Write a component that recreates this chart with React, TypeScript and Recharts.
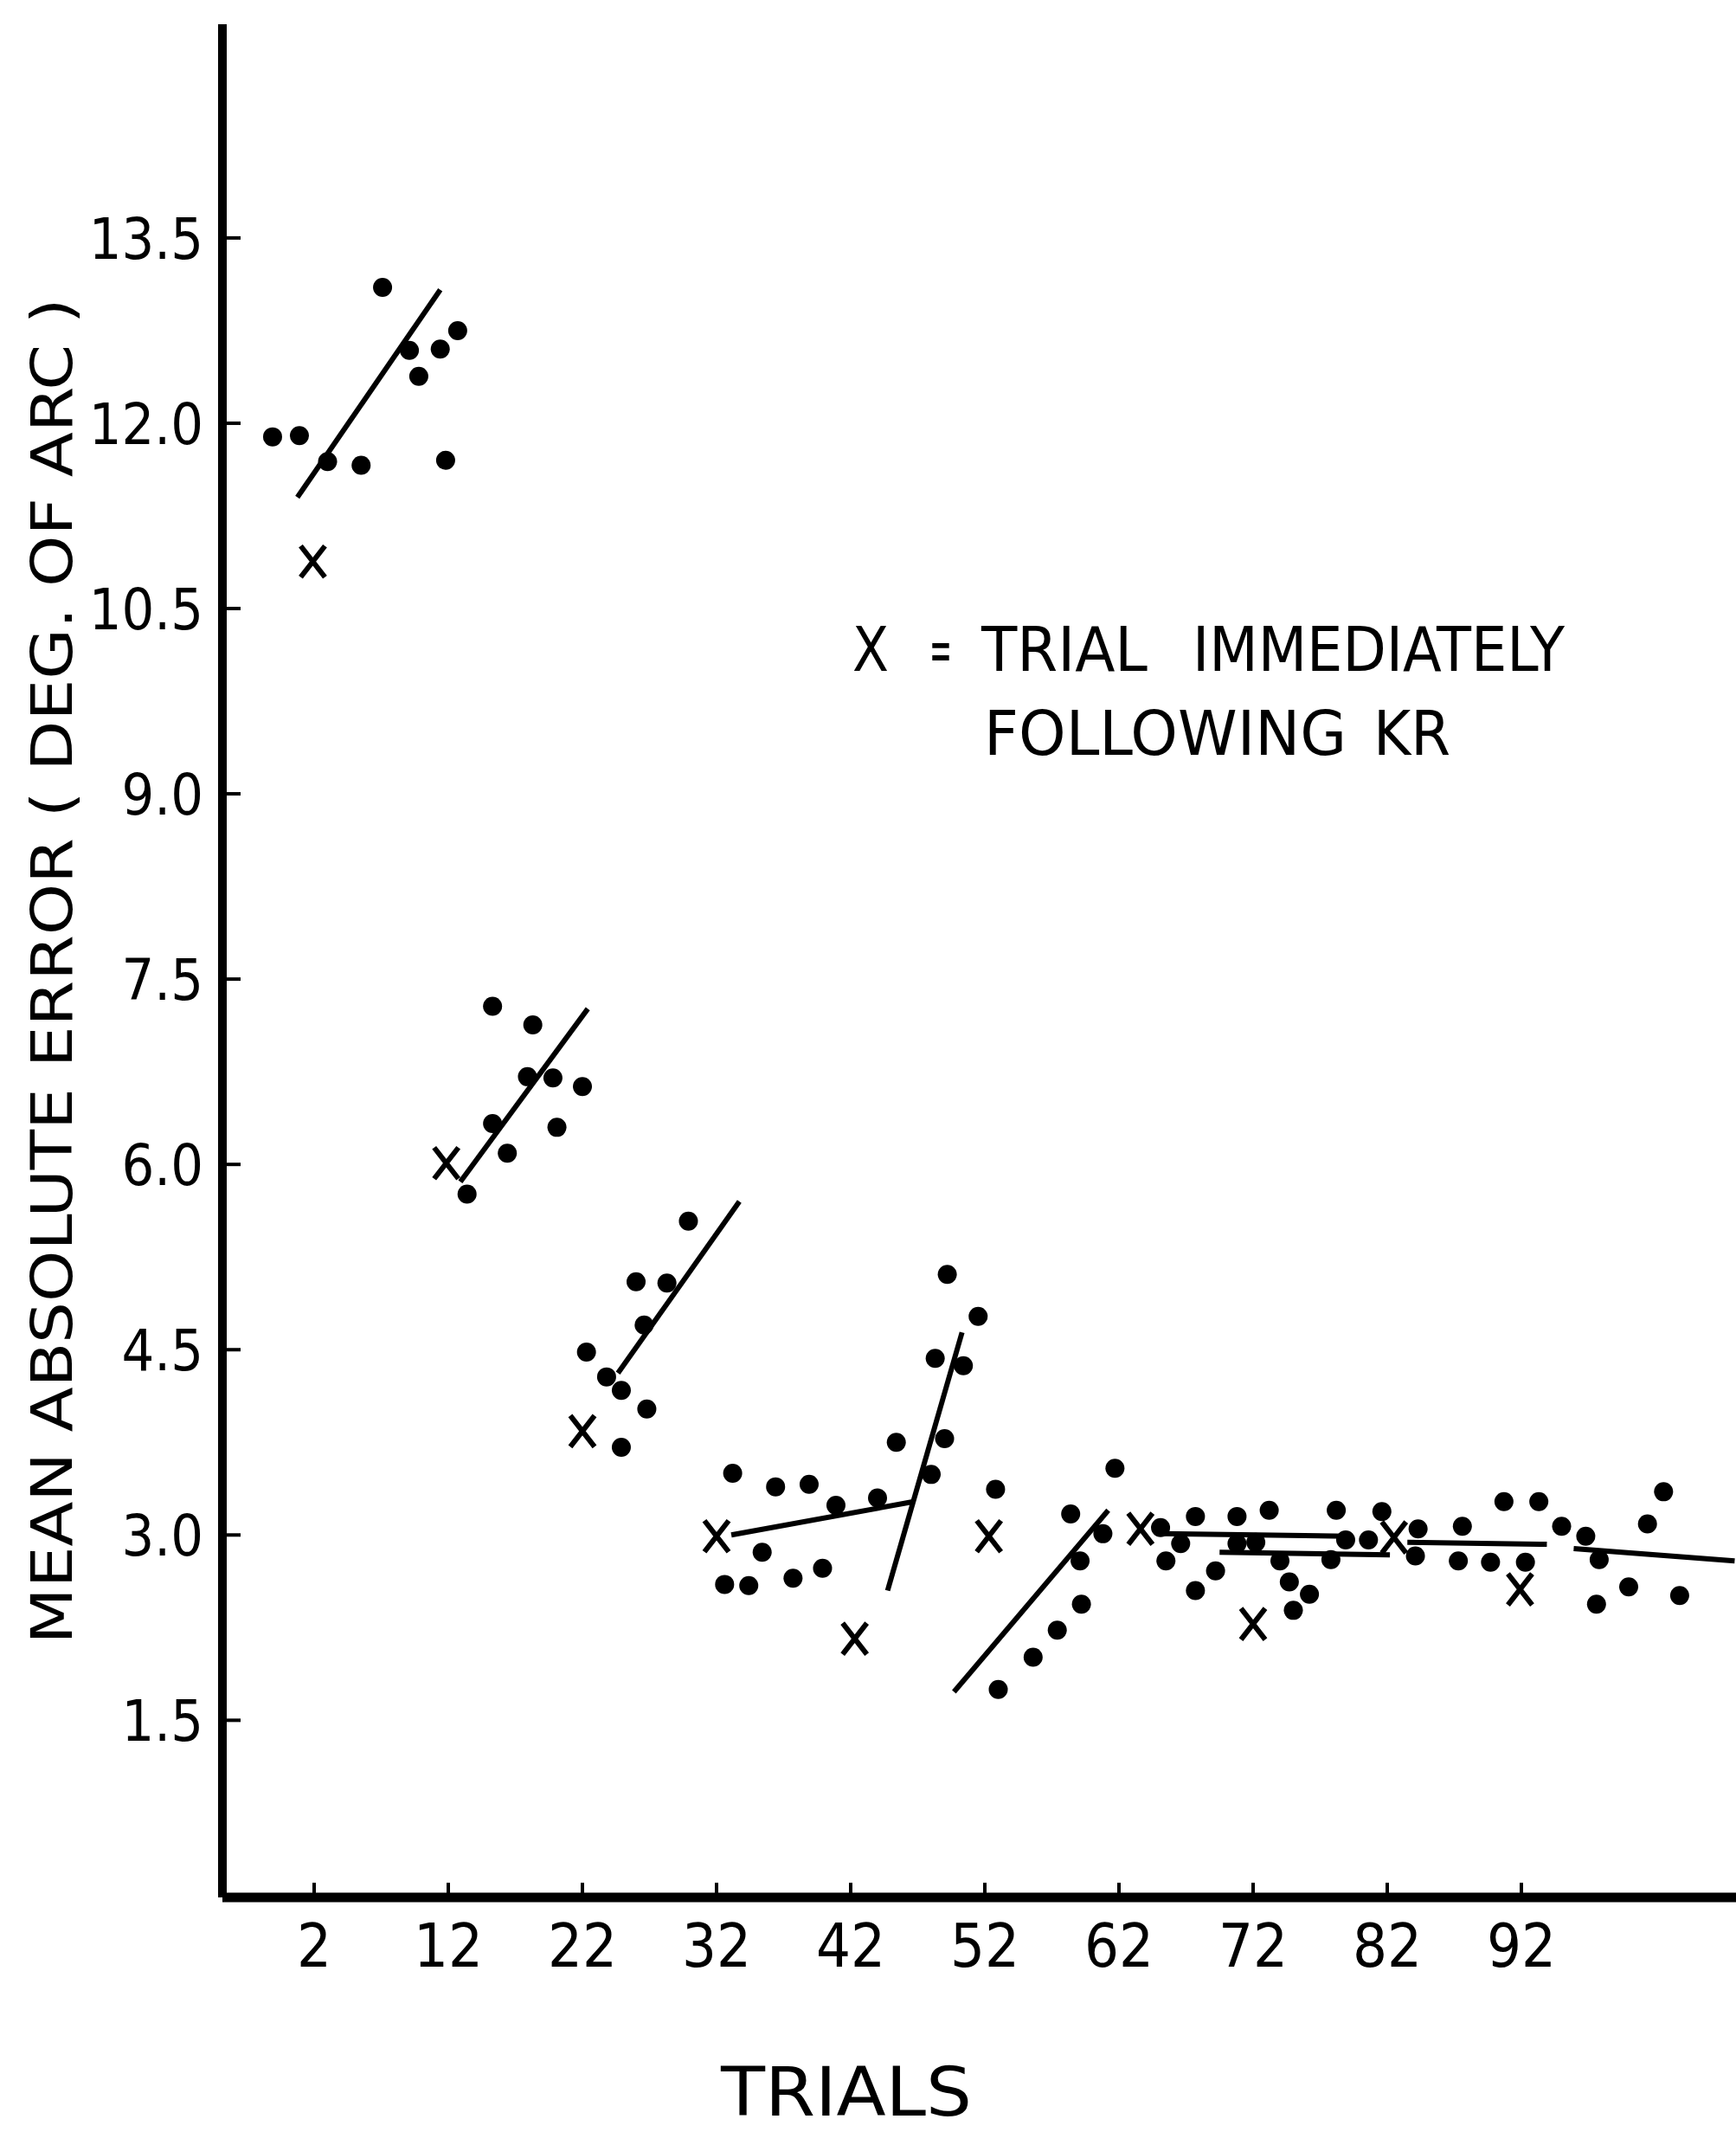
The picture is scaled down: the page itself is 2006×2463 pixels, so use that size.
import { ScatterChart, Scatter, XAxis, YAxis, ReferenceLine } from 'recharts';

const FONT = "'DejaVu Sans Condensed', 'DejaVu Sans', sans-serif";

const trialTicks = [2, 12, 22, 32, 42, 52, 62, 72, 82, 92];
const errorTicks = [1.5, 3, 4.5, 6, 7.5, 9, 10.5, 12, 13.5];

// mean absolute error per trial, grouped by KR block
const block1 = [
  { trial: -1.1, error: 11.89 }, { trial: 0.9, error: 11.9 }, { trial: 3.0, error: 11.69 },
  { trial: 5.5, error: 11.66 }, { trial: 7.1, error: 13.1 }, { trial: 9.1, error: 12.59 },
  { trial: 9.8, error: 12.38 }, { trial: 11.4, error: 12.6 }, { trial: 11.8, error: 11.7 },
  { trial: 12.7, error: 12.75 },
];
const block2 = [
  { trial: 13.4, error: 5.76 }, { trial: 15.3, error: 7.28 }, { trial: 15.3, error: 6.33 },
  { trial: 16.4, error: 6.09 }, { trial: 17.9, error: 6.71 }, { trial: 18.3, error: 7.13 },
  { trial: 19.8, error: 6.7 }, { trial: 20.1, error: 6.3 }, { trial: 22.0, error: 6.63 },
];
const block3 = [
  { trial: 22.3, error: 4.48 }, { trial: 23.8, error: 4.28 }, { trial: 24.9, error: 4.17 },
  { trial: 24.9, error: 3.71 }, { trial: 26.0, error: 5.05 }, { trial: 26.6, error: 4.7 },
  { trial: 26.8, error: 4.02 }, { trial: 28.3, error: 5.04 }, { trial: 29.9, error: 5.54 },
];
const block4 = [
  { trial: 32.6, error: 2.6 }, { trial: 33.2, error: 3.5 }, { trial: 34.4, error: 2.59 },
  { trial: 35.4, error: 2.86 }, { trial: 36.4, error: 3.39 }, { trial: 37.7, error: 2.65 },
  { trial: 38.9, error: 3.41 }, { trial: 39.9, error: 2.73 }, { trial: 40.9, error: 3.24 },
  { trial: 44.0, error: 3.3 }, { trial: 45.4, error: 3.75 },
];
const block5 = [
  { trial: 48.0, error: 3.49 }, { trial: 48.3, error: 4.43 }, { trial: 49.0, error: 3.78 },
  { trial: 49.2, error: 5.11 }, { trial: 50.4, error: 4.37 }, { trial: 51.5, error: 4.77 },
  { trial: 52.8, error: 3.37 },
];
const block6 = [
  { trial: 53.0, error: 1.75 }, { trial: 55.6, error: 2.01 }, { trial: 57.4, error: 2.23 },
  { trial: 58.4, error: 3.17 }, { trial: 59.1, error: 2.79 }, { trial: 59.2, error: 2.44 },
  { trial: 60.8, error: 3.01 }, { trial: 61.7, error: 3.54 },
];
const block7 = [
  { trial: 65.1, error: 3.06 }, { trial: 65.5, error: 2.79 }, { trial: 66.6, error: 2.93 },
  { trial: 67.7, error: 3.15 }, { trial: 67.7, error: 2.55 }, { trial: 69.2, error: 2.71 },
  { trial: 70.8, error: 3.15 }, { trial: 70.8, error: 2.93 }, { trial: 72.2, error: 2.94 },
  { trial: 73.2, error: 3.2 }, { trial: 74.0, error: 2.79 }, { trial: 74.7, error: 2.62 },
  { trial: 75.0, error: 2.39 }, { trial: 76.2, error: 2.52 }, { trial: 77.8, error: 2.8 },
  { trial: 78.2, error: 3.2 }, { trial: 78.9, error: 2.96 }, { trial: 80.6, error: 2.96 },
  { trial: 81.6, error: 3.19 },
];
const block8 = [
  { trial: 84.1, error: 2.83 }, { trial: 84.3, error: 3.05 }, { trial: 87.3, error: 2.79 },
  { trial: 87.6, error: 3.07 }, { trial: 89.7, error: 2.78 }, { trial: 90.7, error: 3.27 },
  { trial: 92.3, error: 2.78 }, { trial: 93.3, error: 3.27 }, { trial: 95.0, error: 3.07 },
  { trial: 96.8, error: 2.99 }, { trial: 97.6, error: 2.44 }, { trial: 97.8, error: 2.8 },
  { trial: 100.0, error: 2.58 }, { trial: 101.4, error: 3.09 }, { trial: 102.6, error: 3.35 },
  { trial: 103.8, error: 2.51 },
];

// trials immediately following KR
const krTrials = [
  { trial: 1.9, error: 10.88 }, { trial: 11.85, error: 6.01 }, { trial: 22.0, error: 3.84 },
  { trial: 32.0, error: 2.99 }, { trial: 42.3, error: 2.16 }, { trial: 52.3, error: 2.99 },
  { trial: 63.6, error: 3.05 }, { trial: 72.0, error: 2.28 }, { trial: 82.5, error: 2.98 },
  { trial: 91.9, error: 2.56 },
];

// fitted lines, [startTrial, startError, endTrial, endError]
const fitLines = [
  [0.75, 11.4, 11.4, 13.08],
  [12.9, 5.86, 22.4, 7.26],
  [24.65, 4.31, 33.7, 5.7],
  [33.1, 3.0, 46.7, 3.27],
  [44.75, 2.55, 50.3, 4.64],
  [49.7, 1.73, 61.2, 3.2],
  [65.2, 3.01, 79.0, 2.99],
  [69.5, 2.86, 82.2, 2.84],
  [83.5, 2.94, 93.9, 2.925],
  [95.9, 2.89, 107.9, 2.79],
];

const dotBlocks = [block1, block2, block3, block4, block5, block6, block7, block8];

// legend note, word by word (x, baseline, width)
const noteWords = [
  { text: 'X', x: 985, y: 775, w: 42 },
  { text: '=', x: 1074, y: 775, w: 26 },
  { text: 'TRIAL', x: 1134, y: 775, w: 192 },
  { text: 'IMMEDIATELY', x: 1378, y: 775, w: 430 },
  { text: 'FOLLOWING', x: 1137, y: 872, w: 419 },
  { text: 'KR', x: 1587, y: 872, w: 89 },
];

const Dot = (props: any) => <circle cx={props.cx} cy={props.cy} r={11} fill="#000" />;

const Cross = (props: any) => {
  const { cx, cy } = props;
  return (
    <path
      d={`M${cx - 14},${cy - 18}L${cx + 14},${cy + 18}M${cx + 14},${cy - 18}L${cx - 14},${cy + 18}`}
      stroke="#000" strokeWidth={6} fill="none"
    />
  );
};

const YTick = ({ x, y, payload }: any) => (
  <g>
    <line x1={x + 4} x2={x + 21} y1={y} y2={y} stroke="#000" strokeWidth={4} />
    <text x={x - 22} y={y + 24} textAnchor="end" fontSize={66} fontFamily={FONT} fill="#000">
      {Number(payload.value).toFixed(1)}
    </text>
  </g>
);

const XTick = ({ x, y, payload }: any) => (
  <g>
    <line x1={x} x2={x} y1={y - 4} y2={y - 17} stroke="#000" strokeWidth={4} />
    <text x={x} y={y + 80} textAnchor="middle" fontSize={70} fontFamily={FONT} fill="#000">
      {payload.value}
    </text>
  </g>
);

export default function App() {
  return (
    <div style={{ position: 'absolute', left: 0, top: 0, width: 2006, height: 2463, background: '#fff', overflow: 'hidden' }}>
      <ScatterChart width={2006} height={2463} margin={{ top: 28, right: 0, bottom: 0, left: 0 }}>
        <XAxis
          type="number" dataKey="trial" domain={[-4.84, 108]} allowDataOverflow
          ticks={trialTicks} interval={0} height={271}
          tickSize={0} tickMargin={0} tickLine={false} tick={<XTick />}
          axisLine={{ stroke: '#000', strokeWidth: 11 }}
        />
        <YAxis
          type="number" dataKey="error" domain={[0.066, 15.23]} allowDataOverflow
          ticks={errorTicks} interval={0} width={257}
          tickSize={0} tickMargin={0} tickLine={false} tick={<YTick />}
          axisLine={{ stroke: '#000', strokeWidth: 10 }}
        />
        {fitLines.map(([x1, y1, x2, y2], i) => (
          <ReferenceLine
            key={`fit-${i}`}
            segment={[{ x: x1, y: y1 }, { x: x2, y: y2 }]}
            stroke="#000" strokeWidth={6} ifOverflow="visible"
          />
        ))}
        {dotBlocks.map((block, i) => (
          <Scatter key={`blk-${i}`} data={block} shape={<Dot />} isAnimationActive={false} />
        ))}
        <Scatter data={krTrials} shape={<Cross />} isAnimationActive={false} />
        <text
          transform="translate(83,1122) rotate(-90)" textAnchor="middle"
          fontSize={66} fontFamily={FONT} fill="#000" textLength={1555} lengthAdjust="spacingAndGlyphs"
        >
          MEAN ABSOLUTE ERROR ( DEG. OF ARC )
        </text>
        <text
          x={833} y={2444} fontSize={78} fontFamily={FONT} fill="#000"
          textLength={290} lengthAdjust="spacingAndGlyphs"
        >
          TRIALS
        </text>
        {noteWords.map((w) => (
          <text
            key={w.text} x={w.x} y={w.y} fontSize={72} fontFamily={FONT} fill="#000"
            textLength={w.w} lengthAdjust="spacingAndGlyphs"
          >
            {w.text}
          </text>
        ))}
      </ScatterChart>
    </div>
  );
}
